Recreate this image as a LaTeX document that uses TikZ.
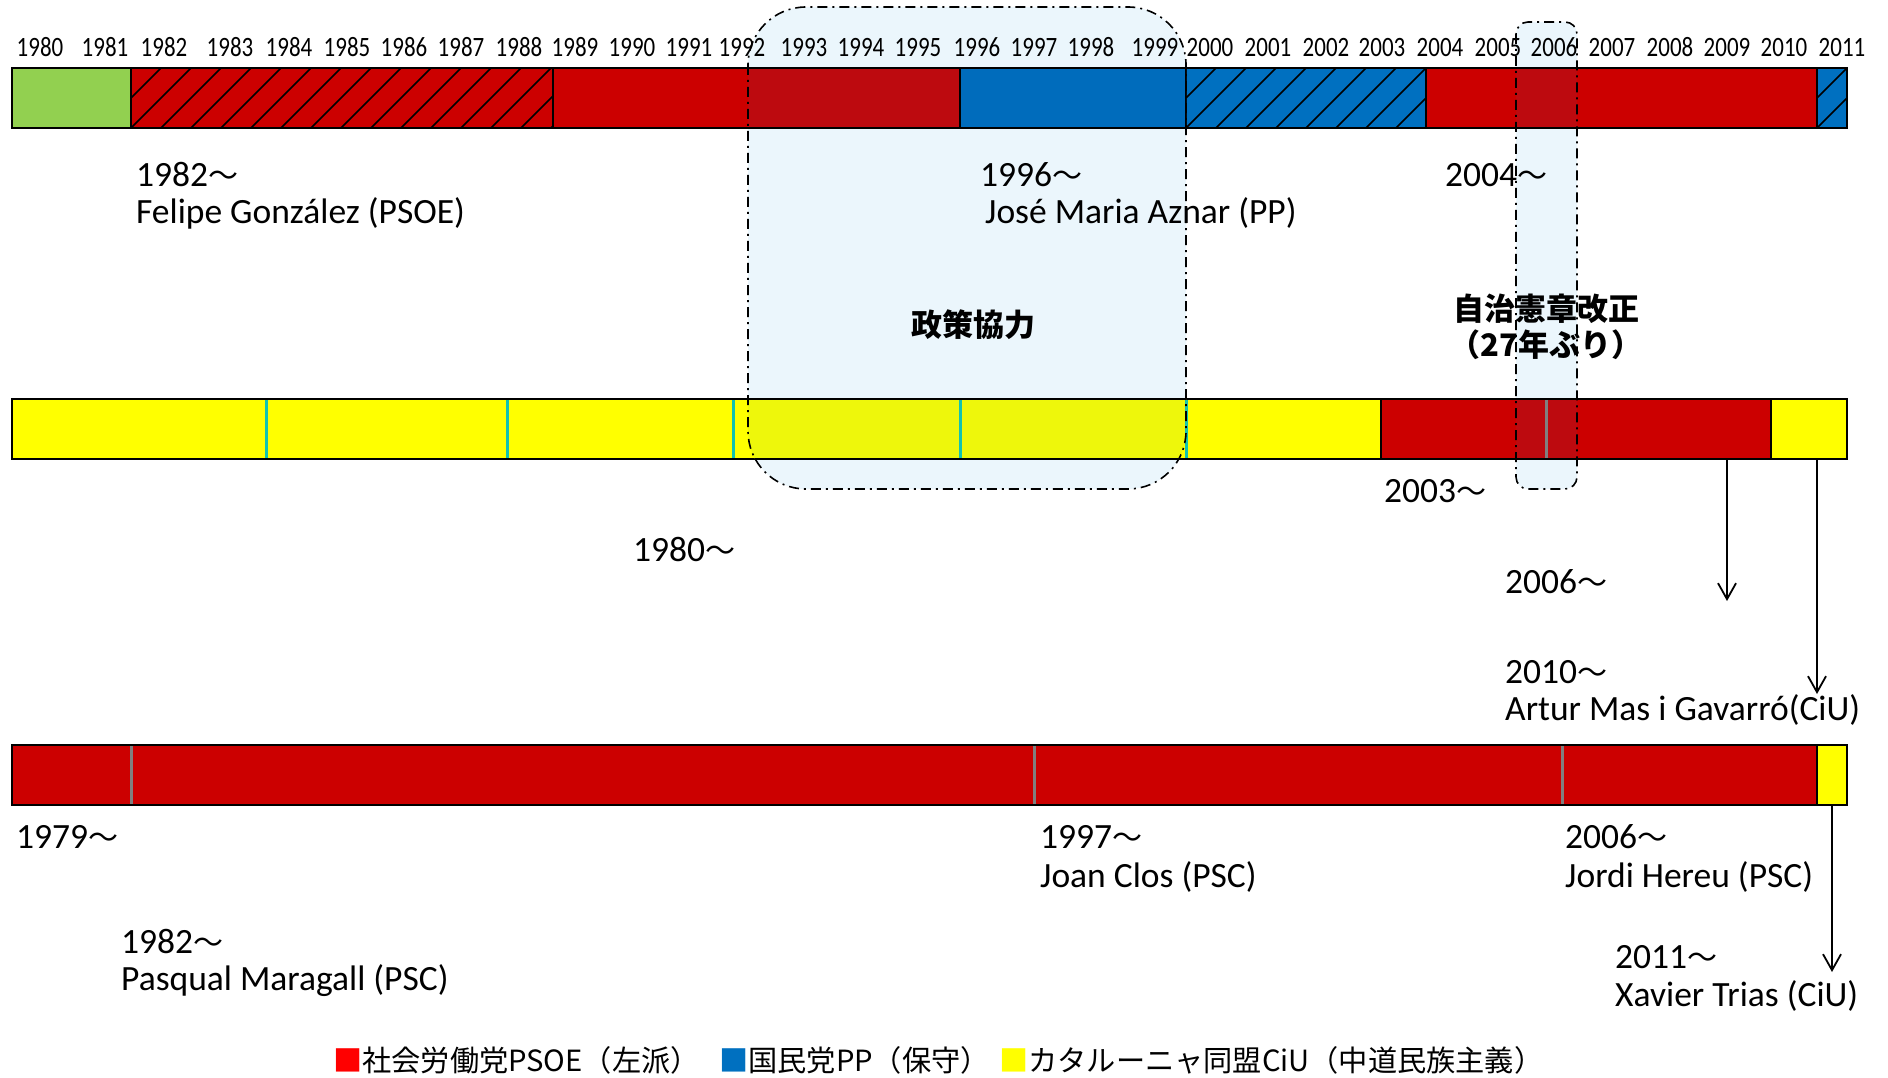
\documentclass[tikz,border=0pt]{standalone}
\usepackage{fontspec}
\usetikzlibrary{arrows.meta}
\setmainfont{Carlito}
\newfontfamily\yrfont[FakeStretch=0.82]{Carlito}
\newfontfamily\cjk{Noto Sans CJK JP}
\definecolor{cred}{HTML}{CC0000}
\definecolor{credb}{HTML}{BD0A0F}
\definecolor{cgreen}{HTML}{92D050}
\definecolor{cblue}{HTML}{0070C0}
\definecolor{cblueb}{HTML}{006CBC}
\definecolor{cyel}{HTML}{FFFF00}
\definecolor{cyelb}{HTML}{EEF70B}
\definecolor{ccyan}{HTML}{12C2B0}
\definecolor{cgray}{HTML}{808080}
\definecolor{boxfill}{HTML}{EBF6FC}
\definecolor{legred}{HTML}{FF0000}
\newcommand\wave{{\cjk\fontsize{30}{32}\selectfont 〜}}
\newcommand\allbars[6]{%
  % top bar (national government)
  \fill[#2] (12,68) rectangle (131,128);
  \fill[#1] (131,68) rectangle (960,128);
  \fill[#3] (960,68) rectangle (1426,128);
  \fill[#1] (1426,68) rectangle (1817,128);
  \fill[#3] (1817,68) rectangle (1847,128);
  \begin{scope}
    \clip (131,68) rectangle (553,128);
    \foreach \k in {-2,...,14} \draw[hatch] ({131+30*\k},128) -- ++(60,-60);
  \end{scope}
  \begin{scope}
    \clip (1186,68) rectangle (1426,128);
    \foreach \k in {-2,...,8} \draw[hatch] ({1186+30*\k},128) -- ++(60,-60);
  \end{scope}
  \begin{scope}
    \clip (1817,68) rectangle (1847,128);
    \foreach \k in {-1,0} \draw[hatch] ({1817+30*\k},128) -- ++(60,-60);
  \end{scope}
  \foreach \x in {131,553,960,1186,1426,1817} \draw[divider] (\x,68) -- (\x,128);
  \draw[barline] (12,68) rectangle (1847,128);
  % middle bar (Catalonia)
  \fill[#4] (12,399) rectangle (1381,459);
  \fill[#1] (1381,399) rectangle (1771,459);
  \fill[#4] (1771,399) rectangle (1847,459);
  \foreach \x in {266,507,733,960,1186} \draw[#5,line width=3pt] (\x,400) -- (\x,458);
  \draw[#6,line width=3pt] (1546,400) -- (1546,458);
  \foreach \x in {1381,1771} \draw[divider] (\x,399) -- (\x,459);
  \draw[barline] (12,399) rectangle (1847,459);
  % bottom bar (Barcelona)
  \fill[#1] (12,745) rectangle (1817,805);
  \fill[#4] (1817,745) rectangle (1847,805);
  \foreach \x in {131,1034,1562} \draw[#6,line width=3pt] (\x,746) -- (\x,804);
  \draw[divider] (1817,745) -- (1817,805);
  \draw[barline] (12,745) rectangle (1847,805);
}
\begin{document}
\begin{tikzpicture}[x=1pt,y=-1pt,
  hatch/.style={black,line width=1.6pt},
  divider/.style={black,line width=2pt},
  barline/.style={black,line width=2.2pt},
  yr/.style={font=\yrfont\fontsize{28}{32}\selectfont,inner sep=0pt,anchor=base},
  lbl/.style={font=\fontsize{35.5}{40}\selectfont,inner sep=0pt,anchor=base west},
  jp/.style={font=\cjk\bfseries\fontsize{31}{36}\selectfont,inner sep=0pt,anchor=center},
  leg/.style={font=\cjk\fontsize{29.2}{34}\selectfont,inner sep=0pt,anchor=base west},
  arr/.style={black,line width=1.8pt,-{Straight Barb[length=16pt,width=18pt,line width=1.8pt]}},
  hl/.style={black,line width=1.6pt,dash pattern=on 10pt off 5pt on 2pt off 5pt}]
\useasboundingbox (0,0) rectangle (1888,1078);
\fill[white] (0,0) rectangle (1888,1078);
% highlight box fills (behind)
\fill[boxfill,rounded corners=58pt] (748,7) rectangle (1186,489);
\fill[boxfill,rounded corners=12pt] (1516,22) rectangle (1577,489);
% bars
\allbars{cred}{cgreen}{cblue}{cyel}{ccyan}{cgray}
\begin{scope}
  \clip[rounded corners=58pt] (748,7) rectangle (1186,489);
  \allbars{credb}{cgreen}{cblueb}{cyelb}{ccyan}{cgray}
\end{scope}
\begin{scope}
  \clip[rounded corners=12pt] (1516,22) rectangle (1577,489);
  \allbars{credb}{cgreen}{cblueb}{cyelb}{ccyan}{cgray}
\end{scope}
% year labels
\foreach \yv/\xx in {1980/40,1981/105,1982/164,1983/230,1984/289,1985/347,1986/404,1987/461,1988/519,1989/575,1990/632,1991/689,1992/742,1993/804,1994/861,1995/918,1996/977,1997/1034,1998/1091,1999/1155,2000/1210,2001/1268,2002/1326,2003/1382,2004/1440,2005/1498,2006/1554,2007/1612,2008/1670,2009/1727,2010/1784,2011/1842}
  \node[yr] (y\yv) at (\xx,57) {\yv};
% labels national
\node[lbl] (n1a) at (136,187) {1982\wave};
\node[lbl] (n1b) at (136,224) {Felipe González (PSOE)};
\node[lbl] (n2a) at (980,187) {1996\wave};
\node[lbl] (n2b) at (985,224) {José Maria Aznar (PP)};
\node[lbl] (n3a) at (1445,187) {2004\wave};
% annotations
\node[jp] (coop) at (973,325) {政策協力};
\node[jp] (stat1) at (1546,309) {自治憲章改正};
\node[jp] (stat2) at (1546,345) {（27年ぶり）};
% labels Catalonia
\node[lbl] (c1) at (633,561) {1980\wave};
\node[lbl] (c2) at (1384,502) {2003\wave};
\node[lbl] (c3) at (1505,593) {2006\wave};
\node[lbl] (c4a) at (1505,683) {2010\wave};
\node[lbl] (c4b) at (1505,720) {Artur Mas i Gavarró(CiU)};
% labels Barcelona
\node[lbl] (b1) at (16,848) {1979\wave};
\node[lbl] (b2a) at (121,953) {1982\wave};
\node[lbl] (b2b) at (121,990) {Pasqual Maragall (PSC)};
\node[lbl] (b3a) at (1040,848) {1997\wave};
\node[lbl] (b3b) at (1040,887) {Joan Clos (PSC)};
\node[lbl] (b4a) at (1565,848) {2006\wave};
\node[lbl] (b4b) at (1565,887) {Jordi Hereu (PSC)};
\node[lbl] (b5a) at (1615,968) {2011\wave};
\node[lbl] (b5b) at (1615,1006) {Xavier Trias (CiU)};
% arrows
\coordinate (a1s) at (1727,460); \coordinate (a1e) at (1727,601);
\coordinate (a2s) at (1817,460); \coordinate (a2e) at (1817,694);
\coordinate (a3s) at (1832,806); \coordinate (a3e) at (1832,972);
\draw[arr] (a1s) -- (a1e);
\draw[arr] (a2s) -- (a2e);
\draw[arr] (a3s) -- (a3e);
% highlight box borders
\draw[hl,rounded corners=58pt] (748,7) rectangle (1186,489);
\draw[hl,rounded corners=12pt] (1516,22) rectangle (1577,489);
% legend
\node[leg] (lg1) at (333,1071) {\textcolor{legred}{■}社会労働党PSOE（左派）};
\node[leg] (lg2) at (719,1071) {\textcolor{cblue}{■}国民党PP（保守）};
\node[leg] (lg3) at (999,1071) {\textcolor{cyel}{■}カタルーニャ同盟CiU（中道民族主義）};
\end{tikzpicture}
\end{document}
